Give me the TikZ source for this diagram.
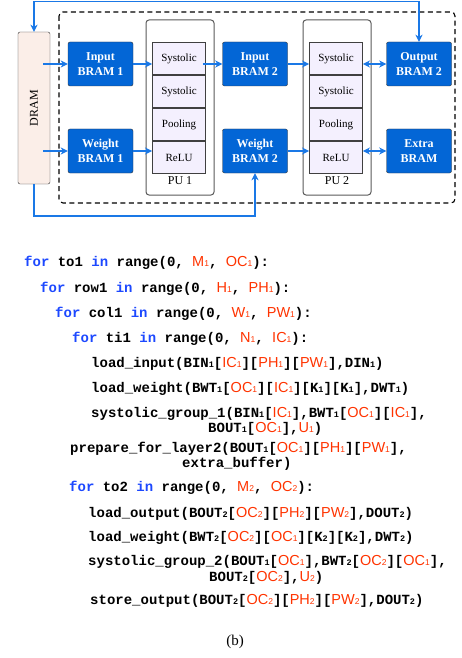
\documentclass[tikz,border=0pt]{standalone}
\usepackage{fontspec}
\setmainfont{Liberation Serif}
\setsansfont{Liberation Sans}
\setmonofont{Liberation Mono}
\usetikzlibrary{arrows.meta,calc,positioning}

\definecolor{bramblue}{HTML}{0366D6}
\definecolor{linkblue}{HTML}{1A78E6}
\definecolor{stagefill}{HTML}{F4F0FE}
\definecolor{dramfill}{HTML}{FBEEE8}
\definecolor{kwblue}{HTML}{1C48FF}
\definecolor{parred}{HTML}{FF3300}

\newcommand{\kw}[1]{\textcolor{kwblue}{#1}}
\newcommand{\lo}[1]{{\fontsize{8.5}{8.5}\selectfont #1}}
\newcommand{\pr}[2]{{\fontsize{14.5}{16}\selectfont\sffamily\mdseries\color{parred}#1\lo{#2}}}

\tikzset{
  bram/.style={draw=black!80, fill=bramblue, rounded corners=2pt, minimum width=65pt,
    minimum height=44pt, align=center, text=white, font=\fontsize{12}{15}\selectfont\bfseries},
  pu/.style={draw=black!65, line width=1pt, rounded corners=3pt, minimum width=68pt, minimum height=175pt},
  stage/.style={draw=black!75, fill=stagefill, line width=0.8pt, minimum width=53pt,
    minimum height=32.2pt, font=\fontsize{11}{13}\selectfont},
  link/.style={draw=linkblue, line width=1.6pt, -{Stealth[length=7pt,width=7pt,inset=2pt]}},
  codeline/.style={anchor=base west, inner sep=0pt, font=\fontsize{14}{16}\selectfont\ttfamily\bfseries},
}

\begin{document}
\begin{tikzpicture}[x=1pt, y=-1pt]
  \useasboundingbox (0,0) rectangle (462,658);
  % on-chip area
  \draw[line width=1.1pt, dash pattern=on 5pt off 3.5pt, rounded corners=4pt] (59,12) rectangle (455,203);
  % DRAM
  \node[draw=black!80, fill=dramfill, rounded corners=2pt, minimum width=32pt, minimum height=152pt,
    font=\fontsize{12}{14}\selectfont] (dram) at (34,108) {\rotatebox{90}{DRAM}};
  % buffers
  \node[bram] (inbram1) at (100.5,64) {Input\\BRAM 1};
  \node[bram] (wtbram1) at (100.5,151) {Weight\\BRAM 1};
  \node[bram] (inbram2) at (255,64) {Input\\BRAM 2};
  \node[bram] (wtbram2) at (255,151) {Weight\\BRAM 2};
  \node[bram] (outbram2) at (419,64) {Output\\BRAM 2};
  \node[bram] (extrabram) at (419,151) {Extra\\BRAM};
  % PU 1
  \node[pu] (pu1) at (180,107.5) {};
  \node[stage] (sysa1) at (179,58.7) {Systolic};
  \node[stage, below=0pt of sysa1] (sysb1) {Systolic};
  \node[stage, below=0pt of sysb1] (pool1) {Pooling};
  \node[stage, below=0pt of pool1] (relu1) {ReLU};
  \node[font=\fontsize{12}{14}\selectfont] (pulabel1) at (180,181) {PU 1};
  % PU 2
  \node[pu] (pu2) at (337,107.5) {};
  \node[stage] (sysa2) at (336,58.7) {Systolic};
  \node[stage, below=0pt of sysa2] (sysb2) {Systolic};
  \node[stage, below=0pt of sysb2] (pool2) {Pooling};
  \node[stage, below=0pt of pool2] (relu2) {ReLU};
  \node[font=\fontsize{12}{14}\selectfont] (pulabel2) at (337,181) {PU 2};
  % data paths
  \coordinate (topline) at (0,1.5);
  \coordinate (botline) at (0,216);
  \draw[link] ($(dram.east |- inbram1.west)+(-7,0)$) -- (inbram1.west);
  \draw[link] ($(dram.east |- wtbram1.west)+(-7,0)$) -- (wtbram1.west);
  \draw[link] (inbram1.east) -- (inbram1.east -| sysa1.west);
  \draw[link] (wtbram1.east) -- (wtbram1.east -| relu1.west);
  \draw[link] ($(sysa1.east |- inbram2.west)+(-3,0)$) -- (inbram2.west);
  \draw[link] (inbram2.east) -- (inbram2.east -| sysa2.west);
  \draw[link] (wtbram2.east) -- (wtbram2.east -| relu2.west);
  \draw[link, {Stealth[length=7pt,width=7pt,inset=2pt]}-{Stealth[length=7pt,width=7pt,inset=2pt]}]
    (outbram2.west -| sysa2.east) -- (outbram2.west);
  \draw[link, {Stealth[length=7pt,width=7pt,inset=2pt]}-{Stealth[length=7pt,width=7pt,inset=2pt]}]
    (extrabram.west -| relu2.east) -- (extrabram.west);
  \draw[link, {Stealth[length=7pt,width=7pt,inset=2pt]}-{Stealth[length=7pt,width=7pt,inset=2pt]}]
    (dram.north) -- (dram.north |- topline) -| (outbram2.north);
  \draw[link] (dram.south) -- (dram.south |- botline) -| (wtbram2.south);
  % loop code
  \node[codeline] (code1) at (24,266) {\kw{for} to1 \kw{in} range(0, \pr{M}{1}, \pr{OC}{1}):};
  \node[codeline] (code2) at (40,292) {\kw{for} row1 \kw{in} range(0, \pr{H}{1}, \pr{PH}{1}):};
  \node[codeline] (code3) at (55,317) {\kw{for} col1 \kw{in} range(0, \pr{W}{1}, \pr{PW}{1}):};
  \node[codeline] (code4) at (72,342) {\kw{for} ti1 \kw{in} range(0, \pr{N}{1}, \pr{IC}{1}):};
  \node[codeline] (code5) at (91,367) {load\_input(BIN\lo{1}[\pr{IC}{1}][\pr{PH}{1}][\pr{PW}{1}],DIN\lo{1})};
  \node[codeline] (code6) at (91,392) {load\_weight(BWT\lo{1}[\pr{OC}{1}][\pr{IC}{1}][K\lo{1}][K\lo{1}],DWT\lo{1})};
  \node[codeline] (code7) at (91,417) {systolic\_group\_1(BIN\lo{1}[\pr{IC}{1}],BWT\lo{1}[\pr{OC}{1}][\pr{IC}{1}],};
  \node[codeline] (code8) at (208,432) {BOUT\lo{1}[\pr{OC}{1}],\pr{U}{1})};
  \node[codeline] (code9) at (70,452) {prepare\_for\_layer2(BOUT\lo{1}[\pr{OC}{1}][\pr{PH}{1}][\pr{PW}{1}],};
  \node[codeline] (code10) at (182,467) {extra\_buffer)};
  \node[codeline] (code11) at (69,491) {\kw{for} to2 \kw{in} range(0, \pr{M}{2}, \pr{OC}{2}):};
  \node[codeline] (code12) at (88,517) {load\_output(BOUT\lo{2}[\pr{OC}{2}][\pr{PH}{2}][\pr{PW}{2}],DOUT\lo{2})};
  \node[codeline] (code13) at (88,541) {load\_weight(BWT\lo{2}[\pr{OC}{2}][\pr{OC}{1}][K\lo{2}][K\lo{2}],DWT\lo{2})};
  \node[codeline] (code14) at (88,565) {systolic\_group\_2(BOUT\lo{1}[\pr{OC}{1}],BWT\lo{2}[\pr{OC}{2}][\pr{OC}{1}],};
  \node[codeline] (code15) at (209,581) {BOUT\lo{2}[\pr{OC}{2}],\pr{U}{2})};
  \node[codeline] (code16) at (90,604) {store\_output(BOUT\lo{2}[\pr{OC}{2}][\pr{PH}{2}][\pr{PW}{2}],DOUT\lo{2})};
  % caption
  \node[font=\fontsize{15}{17}\selectfont] (caption) at (235,642) {(b)};
\end{tikzpicture}
\end{document}
